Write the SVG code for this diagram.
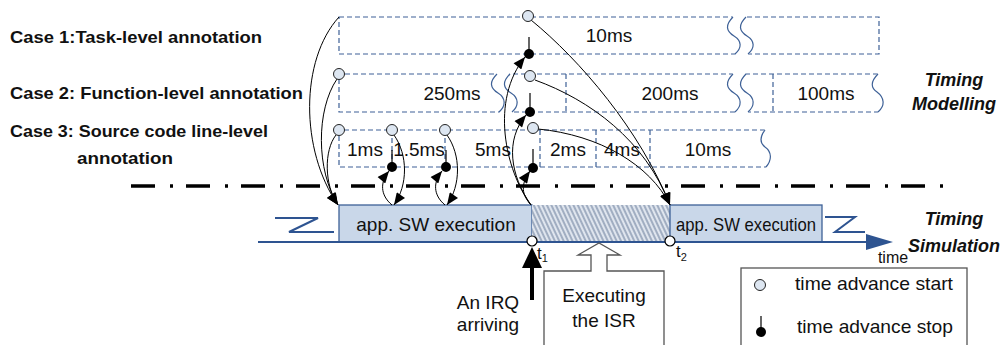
<svg xmlns="http://www.w3.org/2000/svg" width="1006" height="345" viewBox="0 0 1006 345">
<style>
.lbl{font-family:"Liberation Sans",Arial,sans-serif;font-weight:bold;font-size:16.5px;fill:#111}
.tm{font-family:"Liberation Sans",Arial,sans-serif;font-weight:bold;font-style:italic;font-size:18px;fill:#111;text-anchor:middle}
.ms{font-family:"Liberation Sans",Arial,sans-serif;font-size:19px;fill:#111;text-anchor:middle}
.txt{font-family:"Liberation Sans",Arial,sans-serif;font-size:19px;fill:#111;text-anchor:middle}
.dash{fill:none;stroke:#3e6197;stroke-width:1.2;stroke-dasharray:5 3}
.wave{fill:none;stroke:#3e6197;stroke-width:1.2}
.gap{fill:#fff;stroke:none}
.start{fill:#dde6f1;stroke:#222;stroke-width:1}
.stop{fill:#000}
.stem{stroke:#000;stroke-width:1.2}
.arc{fill:none;stroke:#000;stroke-width:1;marker-end:url(#ah)}
.blue{fill:none;stroke:#2e5491;stroke-width:2}
.box{fill:#c9d7e9;stroke:#3e6197;stroke-width:1.3}
</style>
<defs>
<marker id="ah" viewBox="0 0 12 10" refX="12" refY="5" markerWidth="13" markerHeight="10" orient="auto" markerUnits="userSpaceOnUse">
<path d="M0,0 L12,5 L0,10 Z" fill="#000"/>
</marker>
<pattern id="hatch" width="4" height="10" patternUnits="userSpaceOnUse" patternTransform="rotate(-25)">
<rect width="4" height="10" fill="#dfe5ee"/>
<line x1="1" y1="0" x2="1" y2="10" stroke="#55698a" stroke-width="0.9"/>
</pattern>
</defs>
<rect width="1006" height="345" fill="#fff"/>

<g id="case-labels">
<text class="lbl" x="10" y="43" textLength="252" lengthAdjust="spacingAndGlyphs">Case 1:Task-level annotation</text>
<text class="lbl" x="10" y="99" textLength="293" lengthAdjust="spacingAndGlyphs">Case 2: Function-level annotation</text>
<text class="lbl" x="10" y="137" textLength="258" lengthAdjust="spacingAndGlyphs">Case 3: Source code line-level</text>
<text class="lbl" x="77" y="164" textLength="96" lengthAdjust="spacingAndGlyphs">annotation</text>
</g>

<g id="timing-modelling-label">
<text class="tm" x="954" y="86">Timing</text>
<text class="tm" x="954" y="110">Modelling</text>
</g>
<g id="timing-simulation-label">
<text class="tm" x="954" y="225">Timing</text>
<text class="tm" x="954" y="252">Simulation</text>
</g>

<g id="row1">
<path class="dash" d="M339,17 H879 V54 H339 Z"/>
<path class="gap" d="M733,16 C725,25 726,31 734,36 C742,41 742,48 735,55 L748,55 C755,48 755,41 747,36 C739,31 738,25 746,16 Z"/>
<path class="wave" d="M733,17 C725,25 726,31 734,36 C742,41 742,48 735,54 M746,17 C738,25 739,31 747,36 C755,41 755,48 748,54"/>
<text class="ms" x="609" y="42">10ms</text>
</g>

<g id="row2">
<path class="dash" d="M878,74 H339 V112 H878 M566,74 V112 M773,74 V112"/>
<path class="gap" d="M497,73 C489,82 490,88 498,93 C506,98 506,106 499,113 L512,113 C519,106 519,98 511,93 C503,88 502,82 510,73 Z"/>
<path class="wave" d="M497,74 C489,82 490,88 498,93 C506,98 506,106 499,112 M510,74 C502,82 503,88 511,93 C519,98 519,106 512,112"/>
<path class="gap" d="M733,73 C725,82 726,88 734,93 C742,98 742,106 735,113 L748,113 C755,106 755,98 747,93 C739,88 738,82 746,73 Z"/>
<path class="wave" d="M733,74 C725,82 726,88 734,93 C742,98 742,106 735,112 M746,74 C738,82 739,88 747,93 C755,98 755,106 748,112"/>
<path class="gap" d="M878,73 C870,82 871,88 877,92 C885,98 885,106 878,113 L886,113 L886,73 Z"/>
<path class="wave" d="M878,74 C870,82 871,88 877,92 C885,98 885,106 878,112"/>
<text class="ms" x="452" y="100">250ms</text>
<text class="ms" x="670" y="100">200ms</text>
<text class="ms" x="826" y="100">100ms</text>
</g>

<g id="row3">
<path class="dash" d="M765,130 H339 V167 H766 M392,130 V167 M445,130 V167 M540,130 V167 M596,130 V167 M650,130 V167"/>
<path class="gap" d="M765,129 C759,138 760,143 765,147 C772,152 772,160 766,168 L774,168 L774,129 Z"/>
<path class="wave" d="M765,130 C759,138 760,143 765,147 C772,152 772,160 766,167"/>
<text class="ms" x="365" y="156">1ms</text>
<text class="ms" x="419" y="156">1.5ms</text>
<text class="ms" x="493" y="156">5ms</text>
<text class="ms" x="568" y="156">2ms</text>
<text class="ms" x="622" y="156">4ms</text>
<text class="ms" x="708" y="156">10ms</text>
</g>

<g id="separator">
<line x1="131" y1="186" x2="955" y2="186" stroke="#000" stroke-width="3.5" stroke-dasharray="24 15 3 13"/>
</g>

<g id="timeline">
<path class="blue" d="M258,242 H868"/>
<path d="M866,234 L893,242 L866,250 Z" fill="#2e5491"/>
<path class="blue" d="M275,218 H318 L289,232 H334"/>
<path class="blue" d="M825,217 H855 L835,232 H865"/>
<text x="893" y="263" font-family="Liberation Sans, Arial, sans-serif" font-size="16" fill="#111" text-anchor="middle">time</text>
</g>

<g id="app-sw-1">
<rect class="box" x="339" y="205" width="193" height="37"/>
<text class="txt" x="436" y="231">app. SW execution</text>
</g>
<g id="isr-region">
<rect x="532" y="205" width="138" height="37" fill="url(#hatch)"/>
</g>
<g id="app-sw-2">
<rect class="box" x="670" y="205" width="152" height="37"/>
<text class="txt" x="746" y="231" font-size="16.5" textLength="140" lengthAdjust="spacingAndGlyphs">app. SW execution</text>
</g>
<path class="blue" d="M258,242 H868"/>

<g id="t1">
<circle cx="532" cy="241" r="5" fill="#fff" stroke="#000" stroke-width="1.2"/>
<text x="537" y="259" font-family="Liberation Sans, Arial, sans-serif" font-size="17" fill="#111">t<tspan font-size="11" dy="3">1</tspan></text>
</g>
<g id="t2">
<circle cx="670" cy="241" r="5" fill="#fff" stroke="#000" stroke-width="1.2"/>
<text x="676" y="257" font-family="Liberation Sans, Arial, sans-serif" font-size="17" fill="#111">t<tspan font-size="11" dy="4">2</tspan></text>
</g>

<g id="irq">
<line x1="532" y1="300" x2="532" y2="265" stroke="#000" stroke-width="4"/>
<path d="M522,268 L532,247 L542,268 Z" fill="#000"/>
<text class="txt" x="488" y="309" font-size="18">An IRQ</text>
<text class="txt" x="488" y="331" font-size="18">arriving</text>
</g>

<g id="isr-callout">
<path d="M544,350 V271 H591 V255 H578 L599,243 L620,255 H607 V271 H664 V350" fill="#fff" stroke="#555" stroke-width="1.3"/>
<text class="txt" x="604" y="302">Executing</text>
<text class="txt" x="604" y="327">the ISR</text>
</g>

<g id="legend">
<rect x="741" y="268" width="226" height="90" fill="#fff" stroke="#555" stroke-width="1.3"/>
<circle class="start" cx="760" cy="285" r="5.5"/>
<text x="795" y="290" font-family="Liberation Sans, Arial, sans-serif" font-size="19" fill="#111" textLength="158" lengthAdjust="spacingAndGlyphs">time advance start</text>
<line class="stem" x1="761" y1="316" x2="761" y2="328"/>
<circle class="stop" cx="761" cy="332" r="5"/>
<text x="797" y="333" font-family="Liberation Sans, Arial, sans-serif" font-size="19" fill="#111" textLength="156" lengthAdjust="spacingAndGlyphs">time advance stop</text>
</g>

<g id="connectors">
<path class="arc" d="M339,17 C300,60 300,150 338,205"/>
<path class="arc" d="M337,79 C316,110 316,170 338,205"/>
<path class="arc" d="M336,135 C324,150 324,185 338,205"/>
<path class="arc" d="M394,135 C408,155 408,185 394,205"/>
<path class="arc" d="M392,205 C380,195 380,182 389,171"/>
<path class="arc" d="M447,135 C461,155 461,185 447,205"/>
<path class="arc" d="M445,205 C433,195 433,182 442,171"/>
<path class="arc" d="M531,205 C505,170 490,100 525,57"/>
<path class="arc" d="M531,205 C510,175 505,140 526,115"/>
<path class="arc" d="M531,205 C522,195 520,185 530,171"/>
<path class="arc" d="M531,20 C580,60 640,130 670,205"/>
<path class="arc" d="M535,80 C590,100 645,140 670,205"/>
<path class="arc" d="M538,129 C600,135 650,165 670,205"/>
</g>

<g id="start-markers">
<circle class="start" cx="528" cy="16" r="5.5"/>
<circle class="start" cx="339" cy="74" r="5.5"/>
<circle class="start" cx="530" cy="76" r="5.5"/>
<circle class="start" cx="339" cy="130" r="5.5"/>
<circle class="start" cx="392" cy="130" r="5.5"/>
<circle class="start" cx="445" cy="130" r="5.5"/>
<circle class="start" cx="533" cy="128" r="5.5"/>
</g>
<g id="stop-markers">
<line class="stem" x1="529" y1="37" x2="529" y2="52"/><circle class="stop" cx="529" cy="54" r="5"/>
<line class="stem" x1="530" y1="93" x2="530" y2="110"/><circle class="stop" cx="530" cy="112" r="5"/>
<line class="stem" x1="392" y1="150" x2="392" y2="165"/><circle class="stop" cx="392" cy="167" r="5"/>
<line class="stem" x1="446" y1="150" x2="446" y2="165"/><circle class="stop" cx="446" cy="167" r="5"/>
<line class="stem" x1="533" y1="149" x2="533" y2="166"/><circle class="stop" cx="533" cy="168" r="5"/>
</g>
</svg>
